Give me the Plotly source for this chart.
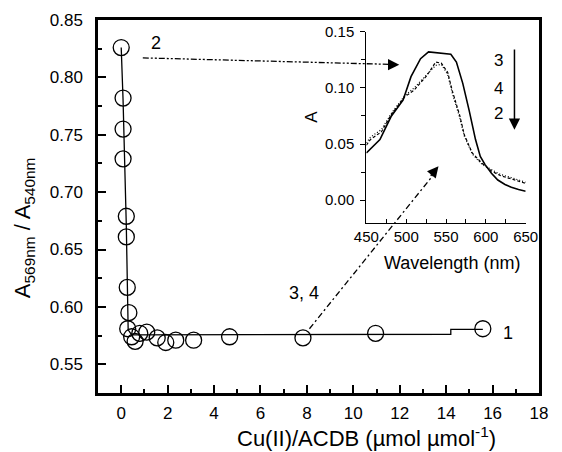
import plotly.graph_objects as go

# Titration: absorbance ratio vs. Cu(II)/ACDB molar ratio
ratio = [0.0, 0.08, 0.08, 0.08, 0.22, 0.22, 0.26, 0.33, 0.28, 0.45, 0.6, 0.8, 1.1,
         1.55, 1.92, 2.35, 3.12, 4.67, 7.83, 10.96, 15.58]
abs_ratio = [0.826, 0.782, 0.755, 0.729, 0.679, 0.661, 0.617, 0.595, 0.581, 0.574,
             0.570, 0.577, 0.578, 0.573, 0.569, 0.571, 0.571, 0.574, 0.573, 0.577, 0.581]

# Guide line through the titration points
fit_x = [0.0, 0.08, 0.22, 0.30, 0.45, 14.2, 14.2, 15.58]
fit_y = [0.826, 0.78, 0.67, 0.58, 0.5757, 0.5762, 0.5805, 0.5805]

# Inset spectra
wl_3 = [450, 467, 481, 496, 506, 518, 528, 536, 550, 556, 563, 571, 579, 587, 593,
        599, 607, 615, 624, 632, 641, 650]
spec_3 = [0.042, 0.054, 0.0745, 0.089, 0.110, 0.126, 0.132, 0.1315, 0.131, 0.130,
          0.123, 0.104, 0.080, 0.054, 0.039, 0.0317, 0.024, 0.018, 0.014, 0.0115,
          0.0095, 0.008]
wl_42 = [450, 455, 469, 481, 498, 510, 526, 537, 544, 552, 558, 567, 573, 583, 595,
         607, 618, 628, 638, 650]
spec_4 = [0.049, 0.054, 0.061, 0.076, 0.092, 0.098, 0.111, 0.123, 0.122, 0.114,
          0.097, 0.076, 0.058, 0.042, 0.033, 0.026, 0.022, 0.020, 0.018, 0.015]
spec_2 = [0.051, 0.056, 0.063, 0.077, 0.093, 0.100, 0.112, 0.120, 0.121, 0.112,
          0.095, 0.074, 0.057, 0.041, 0.032, 0.027, 0.023, 0.021, 0.019, 0.016]

x_ticks = list(range(0, 19, 2))
y_ticks = [0.55, 0.60, 0.65, 0.70, 0.75, 0.80, 0.85]
wl_ticks = [450, 500, 550, 600, 650]
a_ticks = [0.00, 0.05, 0.10, 0.15]

FONT = "Liberation Sans, Arial, sans-serif"
W, H = 562, 452
ML, MR, MT, MB = 98, 10, 20, 59
PW, PH = W - ML - MR, H - MT - MB


def px(x):
    return (x - ML) / PW


def py(y):
    return (H - MB - y) / PH


fig = go.Figure()

fig.add_trace(go.Scatter(x=fit_x, y=fit_y, mode="lines",
                         line=dict(color="black", width=1.3),
                         xaxis="x", yaxis="y", showlegend=False))
fig.add_trace(go.Scatter(x=ratio, y=abs_ratio, mode="markers",
                         marker=dict(symbol="circle-open", size=16,
                                     color="black", line=dict(width=1.3)),
                         xaxis="x", yaxis="y", showlegend=False))

fig.add_trace(go.Scatter(x=wl_3, y=spec_3, mode="lines",
                         line=dict(color="black", width=1.6),
                         xaxis="x2", yaxis="y2", showlegend=False))
fig.add_trace(go.Scatter(x=wl_42, y=spec_4, mode="lines",
                         line=dict(color="black", width=1.2, dash="3px,2px"),
                         xaxis="x2", yaxis="y2", showlegend=False))
fig.add_trace(go.Scatter(x=wl_42, y=spec_2, mode="lines",
                         line=dict(color="black", width=1.2, dash="1px,2px"),
                         xaxis="x2", yaxis="y2", showlegend=False))

axis_common = dict(showgrid=False, zeroline=False, showline=True,
                   linecolor="black", color="black")

fig.update_layout(
    width=W, height=H,
    margin=dict(l=ML, r=MR, t=MT, b=MB),
    paper_bgcolor="white", plot_bgcolor="white",
    font=dict(family=FONT, color="black", size=17),
    xaxis=dict(**axis_common, range=[-1, 18], tickvals=x_ticks, ticks="inside",
               ticklen=8, tickwidth=2, linewidth=2.5, mirror=True,
               ticklabelstandoff=3, tickfont=dict(size=17),
               minor=dict(dtick=1, tick0=0, ticks="inside", ticklen=4,
                          tickwidth=2, tickcolor="black"),
               domain=[0, 1], anchor="y"),
    yaxis=dict(**axis_common, range=[0.525, 0.85], tickvals=y_ticks,
               tickformat=".2f", ticks="inside", ticklen=8, tickwidth=2,
               linewidth=2.5, mirror=True, ticklabelstandoff=9,
               tickfont=dict(size=17),
               minor=dict(dtick=0.025, tick0=0.525, ticks="inside", ticklen=4,
                          tickwidth=2, tickcolor="black"),
               domain=[0, 1], anchor="x"),
    xaxis2=dict(**axis_common, range=[450, 650], tickvals=wl_ticks,
                ticks="inside", ticklen=4, tickwidth=1, linewidth=1.3,
                ticklabelstandoff=0, tickfont=dict(size=15),
                minor=dict(dtick=25, tick0=450, ticks="inside", ticklen=4,
                           tickwidth=1, tickcolor="black"),
                domain=[px(374.3), px(538.3)], anchor="y2"),
    yaxis2=dict(**axis_common, range=[-0.02, 0.15], tickvals=a_ticks,
                tickformat=".2f", ticks="outside", ticklen=5, tickwidth=1,
                linewidth=1.3, ticklabelstandoff=3, tickfont=dict(size=15),
                minor=dict(dtick=0.025, tick0=0, ticks="outside", ticklen=4,
                           tickwidth=1, tickcolor="black"),
                domain=[py(222.7), py(31.7)], anchor="x2"),
)

# Dash-dot connectors from the titration curve into the inset
fig.add_shape(type="line", xref="x", yref="y", x0=0.93, y0=0.817, x1=11.7, y1=0.8113,
              line=dict(color="black", width=1.3, dash="6px,2px,2px,2px,2px,2px"))
fig.add_shape(type="line", xref="x", yref="y", x0=8.11, y0=0.581, x1=13.45, y1=0.715,
              line=dict(color="black", width=1.3, dash="6px,3px,2px,3px"))

arrow = dict(text="", showarrow=True, arrowhead=2, arrowsize=1.5,
             arrowwidth=1.5, arrowcolor="black")
fig.add_annotation(x=11.98, y=0.8111, xref="x", yref="y", ax=-12, ay=0, **arrow)
fig.add_annotation(x=13.67, y=0.7226, xref="x", yref="y", ax=-9, ay=11, **arrow)
fig.add_annotation(x=635.9, y=0.0627, xref="x2", yref="y2", axref="x2", ayref="y2",
                   ax=635.9, ay=0.1356, **arrow)


def label(txt, lx, ly, size, angle=0):
    fig.add_annotation(text=txt, x=px(lx), y=py(ly), xref="paper", yref="paper",
                       xanchor="center", yanchor="middle", showarrow=False,
                       textangle=angle, font=dict(size=size))


for txt, lx, ly, fs in [
    ("2", 158, 43, 18), ("3, 4", 310, 293, 18), ("1", 520, 333, 18),
    ("3", 510, 61, 17), ("4", 510, 88, 17), ("2", 510, 114, 17),
]:
    label(txt, lx, ly, fs)

# Axis titles
label("Cu(II)/ACDB (\u00b5mol \u00b5mol<sup>-1</sup>)", 374, 437, 22)
label("A<sub>569nm</sub> / A<sub>540nm</sub>", 22, 228, 22, angle=-90)
label("Wavelength (nm)", 462, 263, 18)
label("A", 318, 117, 17, angle=-90)

fig.write_html("out.html")
